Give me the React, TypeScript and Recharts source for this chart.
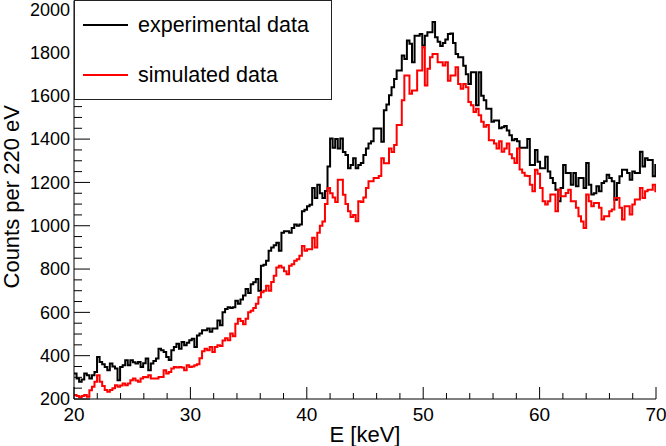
import React from 'react';
import { LineChart, Line, XAxis, YAxis } from 'recharts';

// ---- axis / binning setup ----
const BIN_START = 20; // keV
const BIN_WIDTH = 0.22; // keV (220 eV)
const X_DOMAIN: [number, number] = [20, 70];
const Y_DOMAIN: [number, number] = [200, 2040];

const xMajorTicks = [20, 30, 40, 50, 60, 70];
const X_MINOR_STEP = 2;
const yMajorTicks = [200, 400, 600, 800, 1000, 1200, 1400, 1600, 1800, 2000];
const Y_MINOR_STEP = 50;

const xTitle = 'E [keV]';
const yTitle = 'Counts per 220 eV';

const seriesNames = ['experimental data', 'simulated data'];
const seriesColors = ['#000000', '#ff0000'];

// ---- histogram contents (counts per bin, bins start at 20 keV, width 0.22 keV) ----
const experimental = [
  318, 295, 280, 290, 318, 310, 295, 310, 325, 394,
  371, 360, 348, 333, 364, 350, 341, 287, 348, 356,
  379, 356, 379, 370, 364, 371, 348, 365, 387, 333,
  364, 375, 387, 432, 425, 417, 394, 380, 425, 440,
  455, 432, 463, 448, 460, 471, 478, 440, 493, 502,
  517, 517, 525, 510, 525, 525, 562, 540, 600, 616,
  624, 620, 624, 654, 640, 660, 678, 708, 690, 730,
  739, 754, 700, 815, 820, 838, 884, 900, 910, 922,
  884, 968, 975, 975, 968, 990, 1006, 1000, 1006, 1067,
  1074, 1090, 1097, 1174, 1128, 1189, 1150, 1128, 1160, 1273,
  1403, 1360, 1400, 1357, 1403, 1340, 1327, 1266, 1280, 1312,
  1266, 1281, 1290, 1327, 1357, 1380, 1390, 1449, 1449, 1449,
  1388, 1533, 1560, 1602, 1640, 1678, 1717, 1717, 1786, 1770,
  1855, 1840, 1755, 1877, 1877, 1885, 1832, 1877, 1893, 1893,
  1941, 1870, 1850, 1830, 1844, 1860, 1885, 1888, 1844, 1793,
  1778, 1778, 1739, 1700, 1655, 1709, 1709, 1556, 1709, 1600,
  1579, 1540, 1540, 1480, 1486, 1486, 1450, 1455, 1460, 1440,
  1418, 1395, 1400, 1390, 1360, 1360, 1360, 1400, 1281, 1281,
  1350, 1296, 1266, 1266, 1319, 1250, 1220, 1197, 1166, 1113,
  1174, 1281, 1243, 1243, 1189, 1243, 1182, 1220, 1220, 1174,
  1290, 1189, 1144, 1150, 1182, 1159, 1197, 1205, 1235, 1220,
  1205, 1120, 1197, 1228, 1258, 1258, 1243, 1212, 1250, 1243,
  1243, 1342, 1273, 1312, 1304, 1304, 1228, 1280,
];

const simulated = [
  218, 214, 208, 214, 218, 210, 240, 257, 280, 310,
  280, 260, 241, 234, 241, 250, 264, 257, 262, 272,
  264, 272, 287, 295, 285, 280, 295, 302, 300, 310,
  295, 295, 295, 302, 302, 333, 318, 325, 341, 348,
  345, 348, 345, 333, 356, 348, 350, 356, 360, 388,
  420, 432, 425, 440, 417, 440, 448, 445, 470, 480,
  471, 502, 490, 548, 571, 560, 545, 571, 601, 608,
  620, 640, 670, 693, 700, 723, 700, 740, 769, 807,
  815, 807, 790, 776, 815, 822, 838, 845, 861, 907,
  884, 891, 891, 945, 899, 968, 1000, 1020, 1100, 1174,
  1150, 1130, 1110, 1212, 1212, 1143, 1100, 1067, 1040, 1050,
  1021, 1113, 1110, 1130, 1174, 1205, 1205, 1220, 1220, 1230,
  1312, 1289, 1289, 1357, 1340, 1373, 1465, 1465, 1579, 1694,
  1694, 1610, 1625, 1625, 1717, 1717, 1824, 1647, 1725, 1778,
  1793, 1793, 1755, 1755, 1740, 1755, 1670, 1694, 1694, 1732,
  1655, 1632, 1655, 1640, 1571, 1556, 1525, 1540, 1510, 1480,
  1457, 1465, 1395, 1395, 1380, 1357, 1390, 1342, 1357, 1380,
  1330, 1312, 1290, 1357, 1260, 1245, 1231, 1230, 1189, 1159,
  1258, 1240, 1174, 1113, 1098, 1113, 1144, 1144, 1067, 1166,
  1136, 1136, 1151, 1166, 1113, 1113, 1083, 1044, 1020, 990,
  1144, 1113, 1090, 1105, 1105, 1083, 1029, 1044, 1044, 1067,
  1075, 1128, 1128, 1083, 1029, 1090, 1090, 1052, 1098, 1121,
  1121, 1174, 1128, 1159, 1166, 1166, 1189, 1159,
];

// ---- build step-line data (bin lower edges + closing edge at the axis end) ----
const data = experimental.map((v, i) => ({
  E: Math.round((BIN_START + BIN_WIDTH * i) * 1000) / 1000,
  exp: v,
  sim: simulated[i],
}));
data.push({
  E: X_DOMAIN[1],
  exp: experimental[experimental.length - 1],
  sim: simulated[simulated.length - 1],
});

const xTicks: number[] = [];
for (let v = X_DOMAIN[0]; v <= X_DOMAIN[1]; v += X_MINOR_STEP) xTicks.push(v);
const yTicks: number[] = [];
for (let v = yMajorTicks[0]; v <= yMajorTicks[yMajorTicks.length - 1]; v += Y_MINOR_STEP) yTicks.push(v);

const FONT = '"Liberation Sans", Arial, Helvetica, sans-serif';
const X_TICK_MARGIN = 9;
const Y_TICK_MARGIN = 4;

const XTick = (props: any) => {
  const { x, y, payload } = props;
  const v = payload.value;
  const major = xMajorTicks.includes(v);
  const axisY = y - X_TICK_MARGIN;
  return (
    <g>
      <line x1={x} x2={x} y1={axisY} y2={axisY - (major ? 12 : 6)} stroke="#000" strokeWidth={1} />
      {major && (
        <text x={x} y={y} dy="0.71em" textAnchor="middle" fontSize={19} fill="#000" fontFamily={FONT}>
          {v}
        </text>
      )}
    </g>
  );
};

const YTick = (props: any) => {
  const { x, y, payload } = props;
  const v = payload.value;
  const major = yMajorTicks.includes(v);
  const axisX = x + Y_TICK_MARGIN;
  return (
    <g>
      <line x1={axisX} x2={axisX + (major ? 16 : 8)} y1={y} y2={y} stroke="#000" strokeWidth={1} />
      {major && (
        <text x={x} y={y} dy="0.355em" textAnchor="end" fontSize={18} fill="#000" fontFamily={FONT}>
          {v}
        </text>
      )}
    </g>
  );
};

const XTitle = (props: any) => {
  const vb = props.viewBox;
  return (
    <text x={vb.x + vb.width / 2} y={vb.y + 42.5} textAnchor="middle" fontSize={22} fill="#000" fontFamily={FONT}>
      {xTitle}
    </text>
  );
};

const YTitle = (props: any) => {
  const vb = props.viewBox;
  const cx = vb.x + 19;
  const cy = vb.y + vb.height / 2 - 3;
  return (
    <text
      x={cx}
      y={cy}
      transform={`rotate(-90, ${cx}, ${cy})`}
      textAnchor="middle"
      fontSize={22}
      fill="#000"
      fontFamily={FONT}
    >
      {yTitle}
    </text>
  );
};

const LegendBox = () => (
  <svg
    width={259}
    height={101}
    style={{ position: 'absolute', left: 74, top: 0, overflow: 'visible' }}
  >
    <rect x={0.5} y={0.5} width={257} height={99} fill="#fff" stroke="#222" strokeWidth={1} />
    {seriesNames.map((name, i) => (
      <g key={name}>
        <line x1={9} x2={54} y1={25 + 50 * i} y2={25 + 50 * i} stroke={seriesColors[i]} strokeWidth={2} />
        <text x={64} y={31.5 + 50 * i} fontSize={21.5} fill="#000" fontFamily={FONT}>
          {name}
        </text>
      </g>
    ))}
  </svg>
);

export default function App() {
  return (
    <div style={{ position: 'absolute', left: 0, top: 0, width: 666, height: 446, background: '#fff' }}>
      <LineChart width={666} height={446} data={data} margin={{ top: 0.5, right: 10, bottom: 0, left: 0 }}>
        <XAxis
          dataKey="E"
          type="number"
          domain={X_DOMAIN}
          allowDataOverflow
          ticks={xTicks}
          interval={0}
          tickSize={0}
          tickMargin={X_TICK_MARGIN}
          tickLine={false}
          axisLine={{ stroke: '#000', strokeWidth: 1 }}
          tick={<XTick />}
          height={47}
          label={<XTitle />}
        />
        <XAxis
          xAxisId="top"
          orientation="top"
          dataKey="E"
          type="number"
          domain={X_DOMAIN}
          allowDataOverflow
          height={0}
          tick={false}
          tickLine={false}
          axisLine={{ stroke: '#222', strokeWidth: 1 }}
        />
        <YAxis
          type="number"
          domain={Y_DOMAIN}
          allowDataOverflow
          ticks={yTicks}
          interval={0}
          tickSize={0}
          tickMargin={Y_TICK_MARGIN}
          tickLine={false}
          axisLine={{ stroke: '#000', strokeWidth: 1 }}
          tick={<YTick />}
          width={74}
          label={<YTitle />}
        />
        <YAxis
          yAxisId="right"
          orientation="right"
          type="number"
          domain={Y_DOMAIN}
          allowDataOverflow
          width={0}
          tick={false}
          tickLine={false}
          axisLine={{ stroke: '#222', strokeWidth: 1 }}
        />
        <Line
          dataKey="exp"
          name={seriesNames[0]}
          type="stepAfter"
          stroke={seriesColors[0]}
          strokeWidth={2}
          dot={false}
          activeDot={false}
          isAnimationActive={false}
        />
        <Line
          dataKey="sim"
          name={seriesNames[1]}
          type="stepAfter"
          stroke={seriesColors[1]}
          strokeWidth={2}
          dot={false}
          activeDot={false}
          isAnimationActive={false}
        />
      </LineChart>
      <LegendBox />
    </div>
  );
}
